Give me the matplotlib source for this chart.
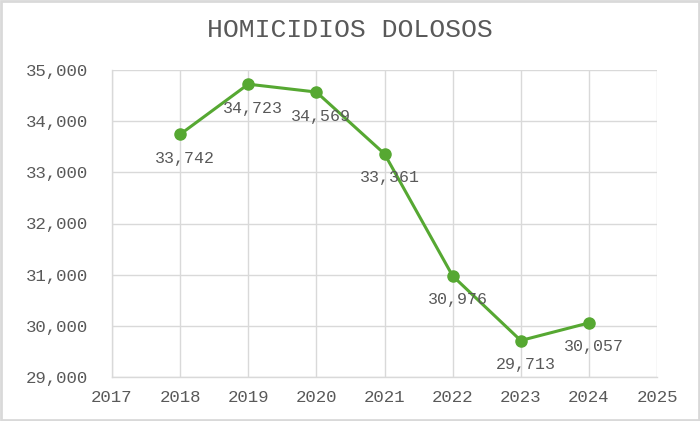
import matplotlib
matplotlib.use('Agg')
import matplotlib.pyplot as plt
from matplotlib.patches import Rectangle
from matplotlib.ticker import FuncFormatter

years = [2018, 2019, 2020, 2021, 2022, 2023, 2024]
homicidios = [33742, 34723, 34569, 33361, 30976, 29713, 30057]

plt.rcParams['font.family'] = ['Liberation Mono', 'DejaVu Sans Mono']
txt_color = '#595959'
grid_color = '#d9d9d9'
line_color = '#56a832'

fig = plt.figure(figsize=(7, 4.21), dpi=100)
ax = fig.add_axes([112 / 700, 1 - 377 / 421, (657 - 112) / 700, (377 - 70) / 421])

ax.plot(years, homicidios, color=line_color, linewidth=2.2, marker='o',
        markersize=8, zorder=3)
# value labels, a bit below and to the right of each point
for x, y in zip(years, homicidios):
    ax.annotate('{:,}'.format(y), (x, y), xytext=(5, -24), textcoords='offset pixels',
                ha='center', va='center', fontsize=12, color=txt_color)

ax.set_xlim(2017, 2025)
ax.set_ylim(29000, 35000)
ax.set_xticks(range(2017, 2026))
ax.set_yticks(range(29000, 35001, 1000))
ax.yaxis.set_major_formatter(FuncFormatter(lambda v, p: '{:,}'.format(int(v))))
ax.grid(True, color=grid_color, linewidth=1)
ax.set_axisbelow(True)
for s in ['top', 'right']:
    ax.spines[s].set_visible(False)
for s in ['left', 'bottom']:
    ax.spines[s].set_color(grid_color)
    ax.spines[s].set_linewidth(1)
ax.tick_params(length=0, labelsize=12.5, colors=txt_color)
ax.tick_params(axis='y', pad=17)
ax.tick_params(axis='x', pad=9)

fig.suptitle('HOMICIDIOS DOLOSOS', y=1 - 30 / 421, va='center',
             fontsize=19, color=txt_color)

fig.patches.append(Rectangle((0.0015, 0.0025), 0.997, 0.995, transform=fig.transFigure,
                             fill=False, edgecolor='#d9d9d9', linewidth=2))

fig.savefig('out.png', dpi=100)
